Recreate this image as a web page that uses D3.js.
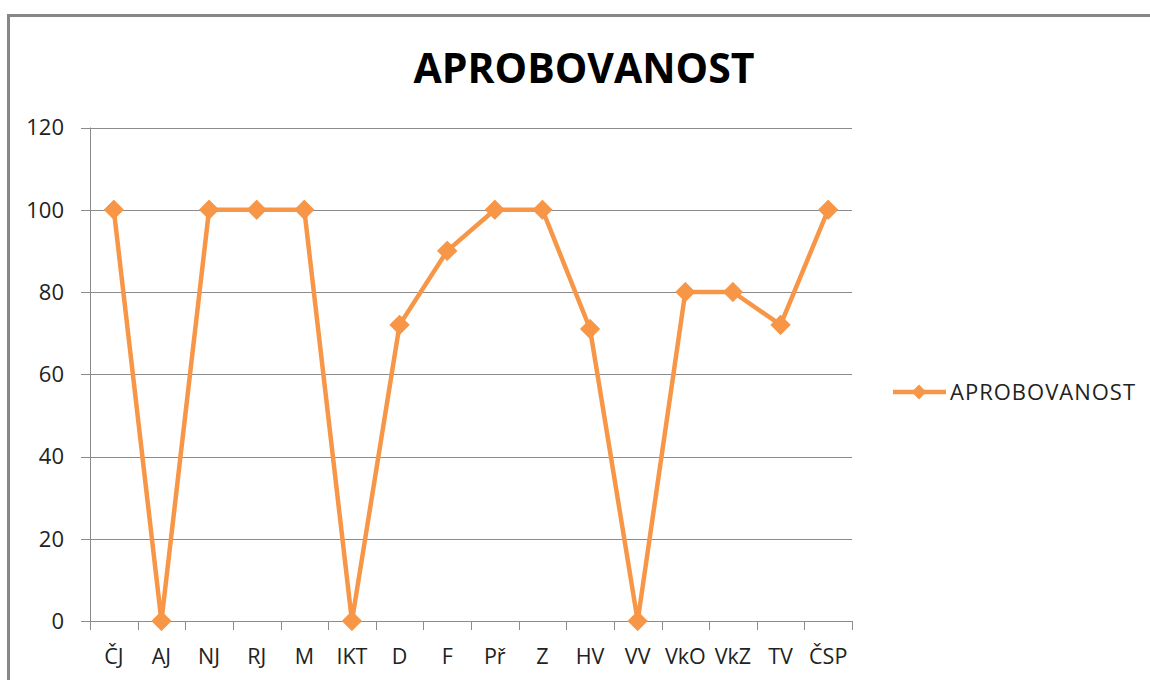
<!DOCTYPE html>
<html><head><meta charset="utf-8">
<script src="https://cdn.jsdelivr.net/npm/d3@7"></script>
<style>body{margin:0;background:#fff;}svg{display:block;}</style>
</head><body>
<script>
const categories = ["ČJ","AJ","NJ","RJ","M","IKT","D","F","Př","Z","HV","VV","VkO","VkZ","TV","ČSP"];
const values = [100,0,100,100,100,0,72,90,100,100,71,0,80,80,72,100];
const yTicks = [0,20,40,60,80,100,120];
const seriesName = "APROBOVANOST";
const title = "APROBOVANOST";

const W = 1150, H = 680;
const svg = d3.select("body").append("svg").attr("width", W).attr("height", H);
const font = "'Open Sans', 'Noto Sans', sans-serif";
const color = "#F79646";

// chart border
svg.append("rect").attr("x", 8.5).attr("y", 15.5).attr("width", 1200).attr("height", 700)
  .attr("fill", "none").attr("stroke", "#878787").attr("stroke-width", 3);

const pLeft = 90, pRight = 852, pTop = 127.5, pBottom = 621;
const x = d3.scaleBand().domain(categories).range([pLeft, pRight]);
const y = d3.scaleLinear().domain([0, 120]).range([pBottom, pTop]);

// gridlines
svg.append("g").selectAll("line").data(yTicks).join("line")
  .attr("x1", pLeft - 9).attr("x2", pRight)
  .attr("y1", d => Math.round(y(d)) + 0.5).attr("y2", d => Math.round(y(d)) + 0.5)
  .attr("stroke", "#8c8c8c").attr("stroke-width", 1);

// y axis line
svg.append("line").attr("x1", pLeft + 0.5).attr("x2", pLeft + 0.5).attr("y1", pTop).attr("y2", pBottom)
  .attr("stroke", "#8c8c8c");

// y labels
svg.append("g").selectAll("text").data(yTicks).join("text")
  .attr("x", 64).attr("y", d => y(d)).attr("dy", "0.36em")
  .attr("text-anchor", "end").attr("font-family", font).attr("font-size", 22).attr("fill", "#222")
  .text(d => d);

// x tick marks at band boundaries
const bounds = categories.map(c => x(c)).concat([pRight]);
svg.append("g").selectAll("line").data(bounds).join("line")
  .attr("x1", d => Math.round(d) + 0.5).attr("x2", d => Math.round(d) + 0.5)
  .attr("y1", pBottom).attr("y2", pBottom + 9)
  .attr("stroke", "#8c8c8c");

// x labels
svg.append("g").selectAll("text").data(categories).join("text")
  .attr("x", d => x(d) + x.bandwidth() / 2).attr("y", 664)
  .attr("text-anchor", "middle").attr("font-family", font).attr("font-size", 21.5).attr("fill", "#222")
  .text(d => d);

// line
const data = categories.map((c, i) => ({c, v: values[i]}));
const line = d3.line().x(d => x(d.c) + x.bandwidth() / 2).y(d => y(d.v));
svg.append("path").datum(data).attr("d", line)
  .attr("fill", "none").attr("stroke", color).attr("stroke-width", 4.5).attr("stroke-linejoin", "round");

// diamond markers
const sym = d3.symbol().type(d3.symbolSquare).size(180);
svg.append("g").selectAll("path").data(data).join("path")
  .attr("d", sym)
  .attr("transform", d => `translate(${x(d.c) + x.bandwidth() / 2},${y(d.v)}) rotate(45)`)
  .attr("fill", color).attr("stroke", color).attr("stroke-width", 1).attr("stroke-linejoin", "round");

// title
svg.append("text").attr("x", 584).attr("y", 83).attr("text-anchor", "middle")
  .attr("font-family", font).attr("font-weight", "bold").attr("font-size", 41).attr("fill", "#000")
  .text(title);

// legend
const ly = 392;
svg.append("line").attr("x1", 893).attr("x2", 946).attr("y1", ly).attr("y2", ly)
  .attr("stroke", color).attr("stroke-width", 4.5);
svg.append("path").attr("d", d3.symbol().type(d3.symbolSquare).size(110))
  .attr("transform", `translate(919,${ly}) rotate(45)`).attr("fill", color);
svg.append("text").attr("x", 950).attr("y", ly).attr("dy", "0.36em")
  .attr("font-family", font).attr("font-size", 22).attr("letter-spacing", 1).attr("fill", "#222").text(seriesName);
</script>
</body></html>
